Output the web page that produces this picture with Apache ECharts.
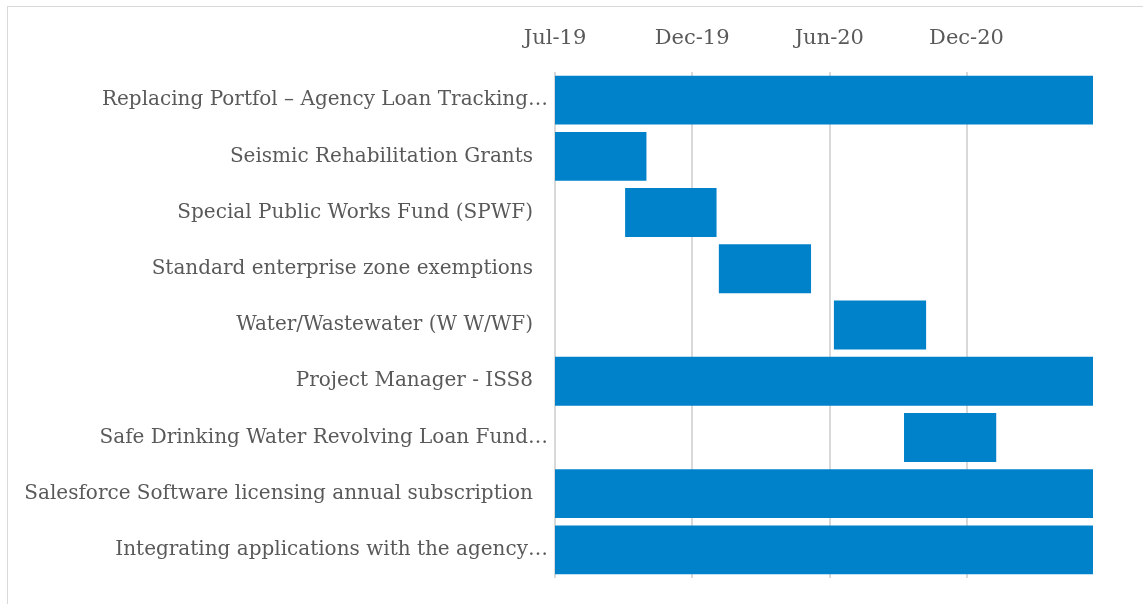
<!DOCTYPE html>
<html>
<head>
<meta charset="utf-8">
<script src="https://cdn.jsdelivr.net/npm/echarts@6/dist/echarts.min.js"></script>
<style>
    html, body { margin: 0; padding: 0; background: #fff; overflow: hidden; }
    #frame { position: absolute; left: 7px; top: 6px; width: 1200px; height: 700px; border: 1px solid #d9d9d9; }
    #chart { position: absolute; left: 0; top: 0; width: 1143px; height: 604px; }
</style>
</head>
<body>
<div id="frame"></div>
<div id="chart"></div>
<script>
// Tasks (top to bottom)
var tasks = [
    'Replacing Portfol \u2013 Agency Loan Tracking\u2026',
    'Seismic Rehabilitation Grants',
    'Special Public Works Fund (SPWF)',
    'Standard enterprise zone exemptions',
    'Water/Wastewater (W W/WF)',
    'Project Manager - ISS8',
    'Safe Drinking Water Revolving Loan Fund\u2026',
    'Salesforce Software licensing annual subscription',
    'Integrating applications with the agency\u2026'
];
var startDates = ['2019-07-01', '2019-07-01', '2019-10-01', '2020-02-01', '2020-07-01', '2019-07-01', '2020-10-01', '2019-07-01', '2019-07-01'];
var endDates = ['2021-06-30', '2019-10-29', '2020-01-29', '2020-06-01', '2020-10-30', '2021-06-30', '2021-01-30', '2021-06-30', '2021-06-30'];

// Axis range and step (days)
var axisStart = '2019-07-01';
var axisEnd = '2021-06-06';
var stepDays = 180;

var months = ['Jan', 'Feb', 'Mar', 'Apr', 'May', 'Jun', 'Jul', 'Aug', 'Sep', 'Oct', 'Nov', 'Dec'];
var DAY = 86400000;
var labelFont = 'DejaVu Serif';

function toMs(s) {
    var p = s.split('-');
    return Date.UTC(+p[0], +p[1] - 1, +p[2]);
}
function daysFromStart(s) {
    return Math.round((toMs(s) - toMs(axisStart)) / DAY);
}

var offsets = startDates.map(daysFromStart);
var durations = endDates.map(function (d, i) { return daysFromStart(d) - offsets[i]; });

var myChart = echarts.init(document.getElementById('chart'));

var option = {
    animation: false,
    grid: {
        left: 555,
        right: 50,
        top: 72,
        bottom: 26
    },
    xAxis: {
        type: 'value',
        position: 'top',
        min: 0,
        max: daysFromStart(axisEnd),
        interval: stepDays,
        axisLine: { show: false },
        axisTick: { show: false },
        axisLabel: {
            margin: 23,
            showMaxLabel: false,
            color: '#595959',
            fontFamily: labelFont,
            fontSize: 21,
            formatter: function (v) {
                var d = new Date(toMs(axisStart) + v * DAY);
                return months[d.getUTCMonth()] + '-' + String(d.getUTCFullYear()).slice(2);
            }
        },
        splitLine: {
            show: true,
            showMaxLine: false,
            lineStyle: { color: '#d9d9d9', width: 2 }
        }
    },
    yAxis: {
        type: 'category',
        inverse: true,
        data: tasks,
        axisLine: { show: false },
        axisTick: { show: false },
        axisLabel: {
            margin: 7,
            color: '#595959',
            fontFamily: labelFont,
            fontSize: 20,
            formatter: function (v) {
                if (v.charAt(v.length - 1) === '\u2026') return v;
                return '{p|' + v + '}';
            },
            rich: {
                p: {
                    color: '#595959',
                    fontFamily: labelFont,
                    fontSize: 20,
                    padding: [0, 15, 0, 0]
                }
            }
        }
    },
    series: [
        {
            name: 'Start',
            type: 'bar',
            stack: 'gantt',
            silent: true,
            itemStyle: { color: 'transparent' },
            data: offsets
        },
        {
            name: 'Duration',
            type: 'bar',
            stack: 'gantt',
            clip: true,
            barCategoryGap: '13%',
            itemStyle: { color: '#0082ca' },
            data: durations
        }
    ]
};

myChart.setOption(option);
</script>
</body>
</html>
